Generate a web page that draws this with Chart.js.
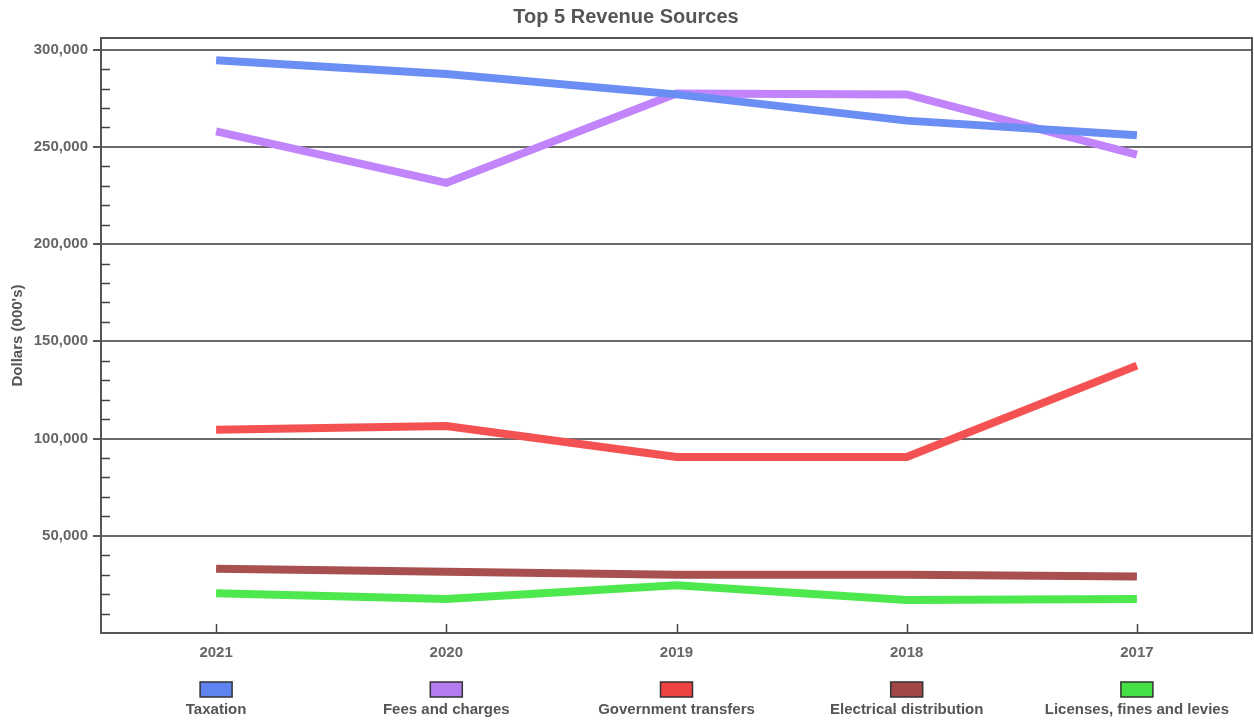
<!DOCTYPE html>
<html>
<head>
<meta charset="utf-8">
<script src="https://cdn.jsdelivr.net/npm/chart.js"></script>
<style>
html,body{margin:0;padding:0;background:#fff;}
#wrap{width:1254px;height:721px;}
</style>
</head>
<body>
<div id="wrap"><canvas id="chart" width="1254" height="721"></canvas></div>
<script>
// values (dollars, 000's)
let years = ["2021","2020","2019","2018","2017"];
let taxation = [294500, 287500, 277000, 263500, 256000];
let fees = [258000, 231500, 277500, 277000, 246000];
let govTransfers = [104500, 106500, 90500, 90500, 137500];
let electrical = [33000, 31500, 30000, 30000, 29000];
let licenses = [20500, 17500, 24500, 17000, 17500];
let yTicks = [50000, 100000, 150000, 200000, 250000, 300000];

let seriesNames = ["Taxation","Fees and charges","Government transfers","Electrical distribution","Licenses, fines and levies"];
let lineColors = ["#6b8ef5","#c184fa","#f45252","#a84f4f","#4de84d"];
let boxColors = ["#5f84f0","#b57cf0","#ef4242","#a04848","#44e044"];

let fontFam = "'Liberation Sans', Arial, sans-serif";

function isMajor(v){
v = Math.round(v);
return yTicks.indexOf(v) >= 0;
}

function makeSet(i,data){
return {
label:seriesNames[i],
data:data,
borderColor:lineColors[i],
backgroundColor:boxColors[i],
borderWidth:8,
pointRadius:0,
tension:0,
fill:false
};
}

// frame, minor ticks and the boxed legend under the axis
let extras = {
id:"extras",
afterDraw(chart){
let ctx = chart.ctx;
let a = chart.chartArea;
let x = chart.scales.x;
let y = chart.scales.y;
ctx.save();
ctx.strokeStyle = "#555";
ctx.lineWidth = 2;
ctx.beginPath();
ctx.moveTo(a.left,a.top);
ctx.lineTo(a.right,a.top);
ctx.lineTo(a.right,a.bottom);
ctx.stroke();

ctx.lineWidth = 1.5;
ctx.strokeStyle = "#444";
for(let v = 10000; v < 300000; v += 10000){
if(isMajor(v)) continue;
let py = Math.round(y.getPixelForValue(v)) + 0.5;
ctx.beginPath();
ctx.moveTo(a.left,py);
ctx.lineTo(a.left+9,py);
ctx.stroke();
}
for(let i = 0; i < years.length; i++){
let px = Math.round(x.getPixelForValue(i)) + 0.5;
ctx.beginPath();
ctx.moveTo(px,a.bottom-9);
ctx.lineTo(px,a.bottom);
ctx.stroke();
}

ctx.font = "bold 15px " + fontFam;
ctx.textAlign = "center";
ctx.textBaseline = "middle";
chart.data.datasets.forEach(function(ds,i){
let cx = x.getPixelForValue(i);
ctx.fillStyle = ds.backgroundColor;
ctx.fillRect(cx-16,682,32,15);
ctx.strokeStyle = "#333";
ctx.lineWidth = 1.5;
ctx.strokeRect(cx-16,682,32,15);
ctx.fillStyle = "#555";
ctx.fillText(ds.label,cx,710);
});
ctx.restore();
}
};

new Chart(document.getElementById("chart"),{
type:"line",
data:{
labels:years,
datasets:[
makeSet(0,taxation),
makeSet(1,fees),
makeSet(2,govTransfers),
makeSet(3,electrical),
makeSet(4,licenses)
]
},
options:{
responsive:false,
animation:false,
events:[],
layout:{padding:{left:0,right:2,top:0,bottom:0}},
plugins:{
legend:{display:false},
tooltip:{enabled:false},
title:{
display:true,
text:"Top 5 Revenue Sources",
color:"#555",
font:{family:fontFam,size:20,weight:"bold"},
padding:{top:5,bottom:9}
}
},
scales:{
x:{
offset:true,
afterFit:function(s){ s.height = 88; },
grid:{display:false,drawTicks:false},
border:{display:true,color:"#555",width:2},
ticks:{
padding:11,
color:"#666",
font:{family:fontFam,size:15,weight:"bold"},
maxRotation:0
}
},
y:{
min:0,
max:306000,
afterFit:function(s){ s.width = 101; },
afterBuildTicks:function(s){
s.ticks = yTicks.map(function(v){ return {value:v}; });
},
border:{display:true,color:"#555",width:2},
grid:{
lineWidth:2,
tickLength:8,
color:"#6a6a6a",
tickColor:"#555"
},
ticks:{
padding:5,
color:"#666",
font:{family:fontFam,size:15,weight:"bold"},
autoSkip:false,
callback:function(v){
return v.toLocaleString("en-US");
}
},
title:{
display:true,
text:"Dollars (000's)",
color:"#555",
font:{family:fontFam,size:15,weight:"bold"},
padding:{top:9,bottom:0}
}
}
}
},
plugins:[extras]
});
</script>
</body>
</html>
